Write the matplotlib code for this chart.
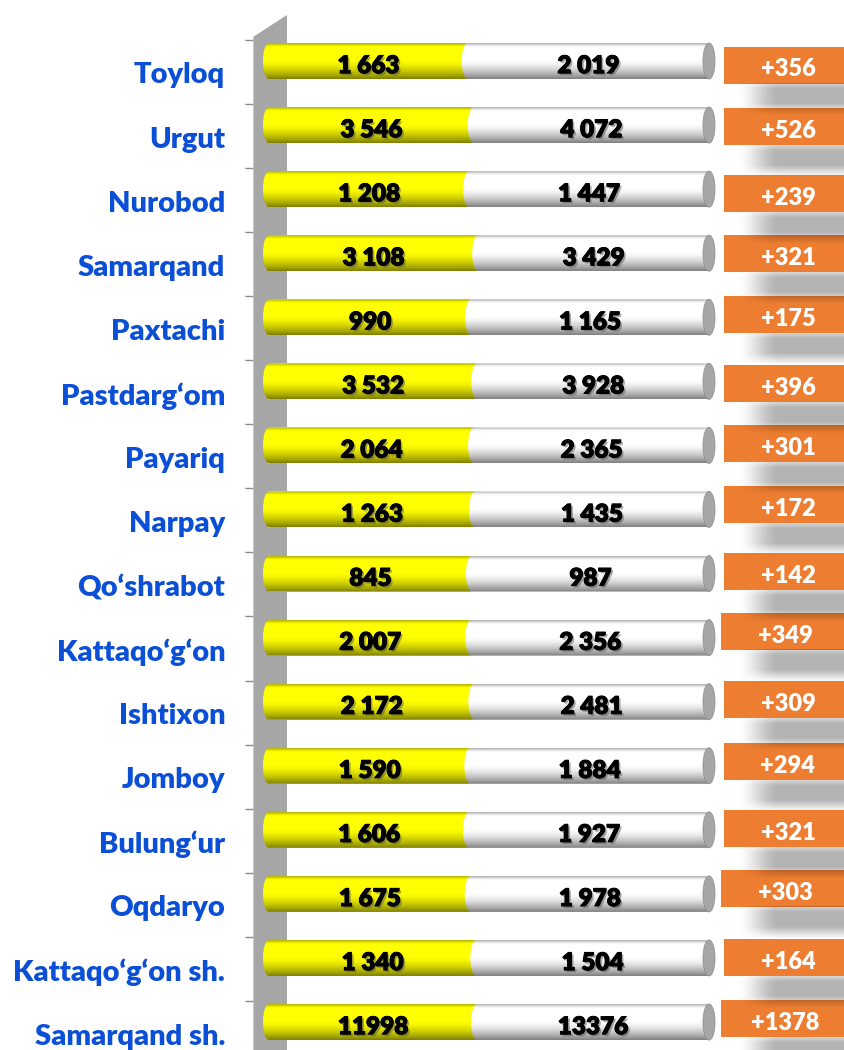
import matplotlib
matplotlib.use('Agg')
import matplotlib.pyplot as plt
import matplotlib.patheffects as pe
from matplotlib.patches import Ellipse, Polygon, Rectangle
import numpy as np

plt.rcParams['font.family'] = ['Lato', 'DejaVu Sans']
plt.rcParams['font.weight'] = 'heavy'

# data
districts = ['Toyloq', 'Urgut', 'Nurobod', 'Samarqand', 'Paxtachi', 'Pastdarg‘om',
             'Payariq', 'Narpay', 'Qo‘shrabot', 'Kattaqo‘g‘on', 'Ishtixon', 'Jomboy',
             'Bulung‘ur', 'Oqdaryo', 'Kattaqo‘g‘on sh.', 'Samarqand sh.']
prev_vals = [1663, 3546, 1208, 3108, 990, 3532, 2064, 1263, 845, 2007,
             2172, 1590, 1606, 1675, 1340, 11998]
curr_vals = [2019, 4072, 1447, 3429, 1165, 3928, 2365, 1435, 987, 2356,
             2481, 1884, 1927, 1978, 1504, 13376]

# hand placed label boxes in the original (pixel nudges, layout only)
box_dy_px = [4, 1, 4, 0, -3, 2, -2, -5, -2, -6, -2, -4, -1, -5, 0, -3.5]
box_x_px = [724, 724, 724, 724, 724, 724, 724, 724, 724, 721, 724, 724, 724, 721, 724, 721]

prev = np.array(prev_vals)
curr = np.array(curr_vals)
share = prev / (prev + curr)
diff = curr - prev
rows = np.arange(len(districts))

# pixel -> data helpers (layout only)
PX0, PXS, PY0, PYS = 269, 440, 61, 64.07
def dx(px):
    return (px - PX0) / PXS
def dy(py):
    return (py - PY0) / PYS


def fmt(v):
    # thousands separated by a space, big numbers written plain like the original
    return str(v) if v >= 10000 else f"{v:,}".replace(",", " ")


fig = plt.figure(figsize=(8.45, 10.5), dpi=100)
ax = fig.add_axes([253 / 845, 0, 592 / 845, 1])

# grey side wall
wall = Polygon([(dx(253), dy(37)), (dx(287), dy(15)), (dx(287), dy(1052)), (dx(253), dy(1052))],
               closed=True, fc='#a6a6a6', ec='none', zorder=1)
ax.add_patch(wall)
ax.plot([dx(253), dx(253)], [dy(37), dy(1052)], color='#c8c8c8', lw=1, zorder=1.5)

h = 36 / PYS
b = h / 2
ea = 6 / PXS

ax.barh(rows, share, height=h, color='#ffff00', zorder=2)
ax.barh(rows, 1 - share, left=share, height=h, color='white', zorder=2)

# vertical shading for the cylinders
v = np.linspace(0, 1, 80)
alpha = 0.28 * np.exp(-(v / 0.06) ** 2) + 0.5 * np.clip((v - 0.45) / 0.55, 0, 1) ** 1.6
grad = np.zeros((80, 1, 4))
grad[:, 0, 3] = alpha

t = np.linspace(np.pi / 2, 3 * np.pi / 2, 40)
for i in rows:
    ax.add_patch(Ellipse((0, i), 2 * ea, h, fc='#ffff00', ec='none', zorder=2))
    ax.add_patch(Ellipse((share[i], i), 2 * ea, h, fc='white', ec='none', zorder=3))
    pts = np.column_stack([ea * np.cos(t), i + b * np.sin(t)])
    pts = np.vstack([pts, [[1, i - b], [1, i + b]]])
    clip = Polygon(pts, closed=True, transform=ax.transData, fc='none', ec='none')
    im = ax.imshow(grad, extent=(-ea, 1, i + b, i - b), aspect='auto',
                   interpolation='bilinear', zorder=4)
    im.set_clip_path(clip)
    ax.add_patch(Ellipse((1, i), 2 * ea, h, fc='#a6a6a6', ec='#909090', lw=0.6, zorder=5))

num_fx = [pe.withSimplePatchShadow(offset=(1.5, -1.5), shadow_rgbFace='#555555', alpha=0.5),
          pe.Stroke(linewidth=0.7, foreground='black'), pe.Normal()]
for i in rows:
    ax.text(share[i] / 2, i + 0.08, fmt(prev_vals[i]), ha='center', va='center',
            fontsize=17.5, color='black', zorder=6, path_effects=num_fx)
    ax.text((1 + share[i]) / 2, i + 0.08, fmt(curr_vals[i]), ha='center', va='center',
            fontsize=17.5, color='black', zorder=6, path_effects=num_fx)

# orange difference boxes with soft shadows
bh = 37 / PYS
sh_len = 32
nx, ny = 130, 64
xs = np.linspace(720, 850, nx)
fx = np.clip((xs - 735) / 45, 0, 1)
fx = fx * fx * (3 - 2 * fx)
ys = np.linspace(0, sh_len, ny)
fy = np.clip(0.55 + ys / 12, 0, 1) * np.clip((sh_len - ys) / 12, 0, 1)
sh = np.zeros((ny, nx, 4))
sh[:, :, 3] = 0.3 * fy[:, None] * fx[None, :]
for i in rows:
    yc = i + box_dy_px[i] / PYS
    bottom = yc + bh / 2
    ax.add_patch(Rectangle((dx(box_x_px[i]), yc - bh / 2), dx(850) - dx(box_x_px[i]), bh,
                           fc='#ed7d31', ec='none', zorder=6))
    ax.imshow(sh, extent=(dx(720), dx(850), bottom + sh_len / PYS, bottom),
              aspect='auto', interpolation='bilinear', zorder=6.5)
    ax.text(dx(box_x_px[i] + 64), yc + 0.07, f"+{diff[i]}", ha='center', va='center',
            fontsize=17, color='white', zorder=7)

ax.set_xlim(dx(253), dx(845))
ax.set_ylim(dy(1050), dy(0))

ax.set_yticks(rows + 12 / PYS)
ax.set_yticklabels(districts, fontsize=21, color='#0b4fd6')
ax.tick_params(axis='y', which='major', length=0, pad=20)
ax.set_yticks(rows - 0.33, minor=True)
ax.tick_params(axis='y', which='minor', length=6, width=1, color='#8c8c8c')
ax.set_xticks([])
for s in ax.spines.values():
    s.set_visible(False)

plt.savefig('out.png', dpi=100)
plt.close()
